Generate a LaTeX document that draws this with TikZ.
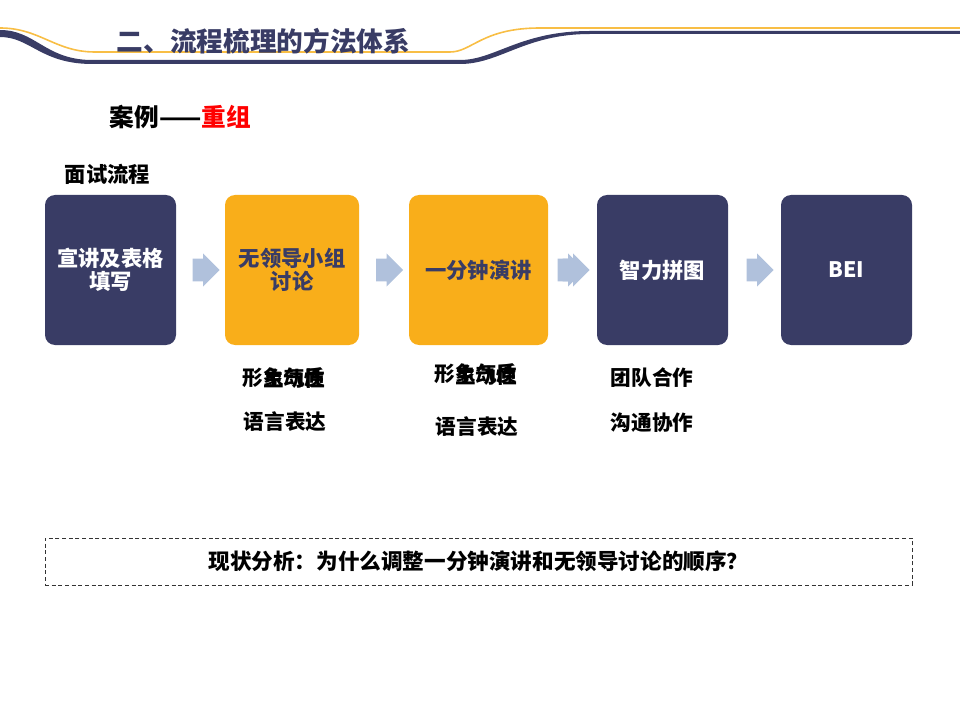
\documentclass[tikz,border=0pt]{standalone}
\usepackage{fontspec}
\setmainfont{Noto Sans CJK SC}
\usetikzlibrary{positioning, calc, shapes.arrows}
\definecolor{navy}{HTML}{393C65}
\definecolor{gold}{HTML}{F9AE1A}
\definecolor{goldline}{HTML}{F8BE45}
\definecolor{arrowblue}{HTML}{B0C1DC}

\begin{document}
\begin{tikzpicture}[x=0.75pt, y=-0.75pt,
    procbox/.style={rounded corners=7.5pt, inner sep=0pt, minimum height=112.5pt,
      align=center, font=\fontsize{16}{17.25}\selectfont\bfseries},
    flowarrow/.style={single arrow, fill=arrowblue, draw=none, inner xsep=0pt,
      inner ysep=8.25pt, single arrow head extend=4pt, minimum height=20.25pt},
    note/.style={font=\fontsize{15.5}{18}\selectfont\bfseries, inner sep=0pt}]
  \useasboundingbox (0,0) rectangle (960,720);
  % header band
  \draw[goldline, line width=1.2pt] (0,28) .. controls (40,28) and (55,52) .. (95,52)
    -- (450,52) .. controls (472,52) and (482,28) .. (540,28) -- (960,28);
  \fill[navy] (0,30) .. controls (35,30) and (45,59) .. (90,60) -- (460,60)
    .. controls (495,60) and (520,31) .. (590,31) -- (960,31) -- (960,34) -- (590,34)
    .. controls (525,34) and (500,64) .. (460,64) -- (90,64)
    .. controls (40,63) and (30,37) .. (0,37) -- cycle;
  \node[anchor=west, text=navy, font=\fontsize{20}{24}\selectfont\bfseries] (title)
    at (112,41) {二、流程梳理的方法体系};
  \node[anchor=west, font=\fontsize{18.5}{22}\selectfont\bfseries] (case)
    at (105,117) {案例——\textcolor{red}{重组}};
  \node[anchor=west, font=\fontsize{16}{19}\selectfont\bfseries] (flow)
    at (60,174) {面试流程};
  % interview steps
  \foreach \name/\cx/\w/\fc/\tc/\txt in {b1/110.5/131/navy/white/{宣讲及表格\\填写},
      b2/292/134/gold/navy/{无领导小组\\讨论}, b3/478.5/139/gold/navy/{一分钟演讲},
      b4/662.5/131/navy/white/{智力拼图}, b5/846.5/131/navy/white/{BEI}}{
    \node[procbox, fill=\fc, text=\tc, minimum width=\w*0.75pt] (\name) at (\cx,270) {\txt};
  }
  \foreach \i/\j in {1/2, 2/3, 4/5}{
    \node[flowarrow] (a\i) at ($(b\i.east)!0.5!(b\j.west)$) {};
  }
  \node[flowarrow] (a3) at ($(b3.east)!0.5!(b4.west)+(-7,0)$) {};
  \node[flowarrow] (a3b) at ($(b3.east)!0.5!(b4.west)+(-2,0)$) {};
  % what each step looks at
  \node[note] (q2a) at (284,378) {形象气质};
  \node[note] (q2b) at (294,379) {主动性};
  \node[note] (q2c) at (285,422) {语言表达};
  \node[note] (q3a) at (476,374) {形象气质};
  \node[note] (q3b) at (486,376) {主动性};
  \node[note] (q3c) at (477,427) {语言表达};
  \node[note] (q4a) at (652,378) {团队合作};
  \node[note] (q4b) at (652,423) {沟通协作};
  \node[draw=black!80, dash pattern=on 3pt off 2pt, line width=0.6pt,
    minimum width=650.25pt, minimum height=35.25pt, inner sep=0pt,
    font=\fontsize{16.2}{18}\selectfont\bfseries] (issue) at (478.5,561.5)
    {现状分析：为什么调整一分钟演讲和无领导讨论的顺序？};
\end{tikzpicture}
\end{document}
